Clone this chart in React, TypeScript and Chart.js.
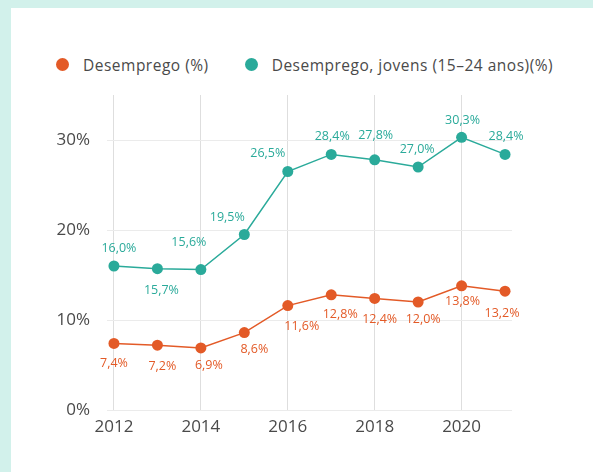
import React, { useEffect, useRef } from "react";
import { Chart, registerables } from "chart.js";

Chart.register(...registerables);

const years = [2012, 2013, 2014, 2015, 2016, 2017, 2018, 2019, 2020, 2021];
const desemprego = [7.4, 7.2, 6.9, 8.6, 11.6, 12.8, 12.4, 12.0, 13.8, 13.2];
const desempregoJovens = [16.0, 15.7, 15.6, 19.5, 26.5, 28.4, 27.8, 27.0, 30.3, 28.4];
const xTickYears = [2012, 2014, 2016, 2018, 2020];
const yTickValues = [0, 10, 20, 30];
const seriesNames = ["Desemprego (%)", "Desemprego, jovens (15–24 anos)(%)"];

const ORANGE = "#E35A27";
const TEAL = "#2AAA9A";
const FONT = "'Open Sans', sans-serif";

// label placement relative to each point (dx, dy) in px
const orangeLabelOffsets = [[0, 20], [5, 21], [8, 18], [10, 17], [14, 21], [9, 20], [5, 21], [5, 17], [1, 16], [-3, 22]];
const tealLabelOffsets = [[5, -18], [4, 22], [-12, -27], [-17, -17], [-20, -18], [1, -18], [1, -24], [-1, -18], [1, -17], [1, -18]];

const fmt = (v: number) => v.toFixed(1).replace(".", ",") + "%";

const labelPlugin = {
  id: "pointLabels",
  afterDatasetsDraw(chart: any) {
    const ctx = chart.ctx;
    const offsetsList = [orangeLabelOffsets, tealLabelOffsets];
    const colors = [ORANGE, TEAL];
    chart.data.datasets.forEach((ds: any, di: number) => {
      const meta = chart.getDatasetMeta(di);
      ctx.save();
      ctx.font = `12.5px ${FONT}`;
      ctx.fillStyle = colors[di];
      ctx.textAlign = "center";
      ctx.textBaseline = "middle";
      meta.data.forEach((el: any, i: number) => {
        const [dx, dy] = offsetsList[di][i];
        ctx.fillText(fmt(ds.data[i].y), el.x + dx, el.y + dy);
      });
      ctx.restore();
    });
  },
};

export default function App() {
  const ref = useRef<HTMLCanvasElement>(null);
  useEffect(() => {
    if (!ref.current) return;
    const chart = new Chart(ref.current, {
      type: "line",
      data: {
        datasets: [
          {
            label: seriesNames[0],
            data: years.map((y, i) => ({ x: y, y: desemprego[i] })),
            borderColor: ORANGE,
            backgroundColor: ORANGE,
            borderWidth: 1.5,
            pointRadius: 5.5,
            pointBorderWidth: 0,
            pointBackgroundColor: ORANGE,
          },
          {
            label: seriesNames[1],
            data: years.map((y, i) => ({ x: y, y: desempregoJovens[i] })),
            borderColor: TEAL,
            backgroundColor: TEAL,
            borderWidth: 1.5,
            pointRadius: 5.5,
            pointBorderWidth: 0,
            pointBackgroundColor: TEAL,
          },
        ],
      },
      options: {
        animation: false,
        responsive: false,
        layout: { padding: { top: 87, left: 0, right: 81, bottom: 0 } },
        plugins: { legend: { display: false }, tooltip: { enabled: false } },
        scales: {
          x: {
            type: "linear",
            min: 2011.84,
            max: 2021.16,
            afterBuildTicks: (s: any) => {
              s.ticks = xTickYears.map((v) => ({ value: v }));
            },
            afterFit: (s: any) => {
              s.height = 62;
            },
            ticks: {
              padding: 7,
              color: "#4A4A4A",
              font: { family: FONT, size: 17 },
              callback: (v: any) => String(v),
            },
            grid: { color: "#DEDEDE", lineWidth: 1, drawTicks: false },
            border: { display: false },
          },
          y: {
            min: 0,
            max: 35,
            afterBuildTicks: (s: any) => {
              s.ticks = yTickValues.map((v) => ({ value: v }));
            },
            afterFit: (s: any) => {
              s.width = 96;
            },
            ticks: {
              padding: 17,
              color: "#4A4A4A",
              font: { family: FONT, size: 17 },
              callback: (v: any) => v + "%",
            },
            grid: { color: "#EBEBEB", lineWidth: 1, drawTicks: false },
            border: { display: false },
          },
        },
      },
      plugins: [labelPlugin],
    });
    return () => chart.destroy();
  }, []);

  const legendItem = (color: string, text: string) => (
    <div style={{ display: "flex", alignItems: "center", marginRight: 36 }}>
      <span
        style={{
          width: 13,
          height: 13,
          borderRadius: "50%",
          background: color,
          display: "inline-block",
          marginRight: 14,
        }}
      />
      <span style={{ fontFamily: FONT, fontSize: 15.5, letterSpacing: 0.5, color: "#4A4A4A", whiteSpace: "nowrap" }}>{text}</span>
    </div>
  );

  return (
    <div style={{ position: "fixed", left: 0, top: 0, width: 593, height: 472, background: "#D2F1EB", overflow: "hidden" }}>
      <div style={{ position: "absolute", left: 11, top: 8, width: 582, height: 464, background: "#FFFFFF" }}>
        <div style={{ position: "absolute", left: 45, top: 46, height: 21, display: "flex", alignItems: "center" }}>
          {legendItem(ORANGE, seriesNames[0])}
          {legendItem(TEAL, seriesNames[1])}
        </div>
        <canvas ref={ref} width={582} height={464} style={{ position: "absolute", left: 0, top: 0 }} />
      </div>
    </div>
  );
}
